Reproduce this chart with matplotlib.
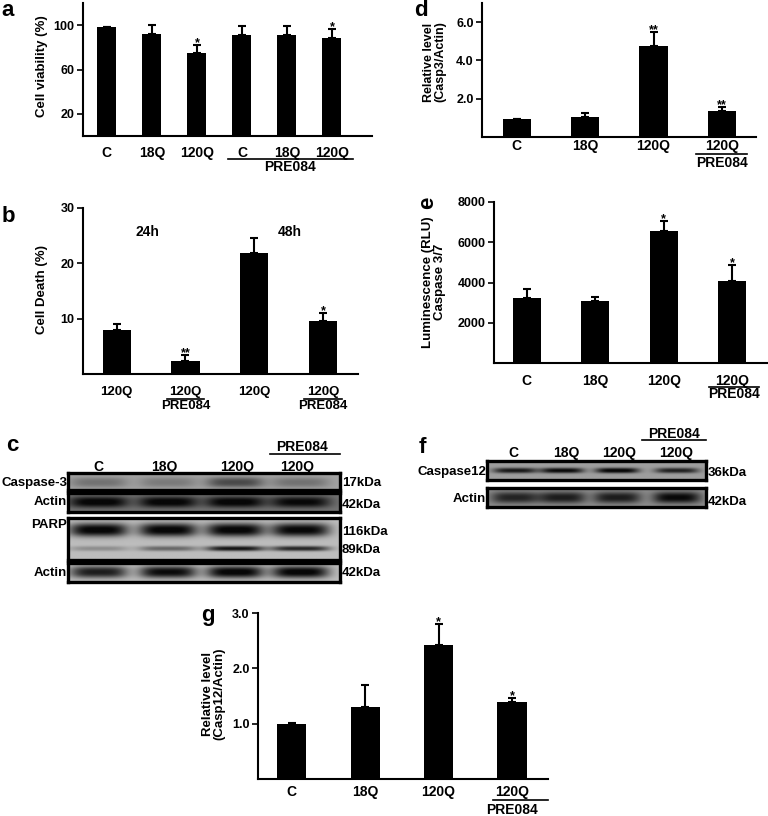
import numpy as np
import matplotlib
matplotlib.use("Agg")
import matplotlib.pyplot as plt
from matplotlib.transforms import blended_transform_factory

plt.rcParams['font.family'] = ['Liberation Sans', 'DejaVu Sans']
plt.rcParams['font.weight'] = 'bold'

W, H = 768, 816

# ---- data ----
a_labels = ['C', '18Q', '120Q', 'C', '18Q', '120Q']
a_vals = [98, 92, 74.5, 91, 91, 88.5]
a_err = [0.5, 8, 7.5, 8, 8, 8]
a_stars = ['', '', '*', '', '', '*']

b_labels = ['120Q', '120Q', '120Q', '120Q']
b_vals = [8.0, 2.4, 21.8, 9.5]
b_err = [1.1, 1.1, 2.7, 1.6]
b_stars = ['', '**', '', '*']
b_times = ['24h', '48h']

d_labels = ['C', '18Q', '120Q', '120Q']
d_vals = [0.93, 1.04, 4.77, 1.36]
d_err = [0.0, 0.21, 0.73, 0.21]
d_stars = ['', '', '**', '**']

e_labels = ['C', '18Q', '120Q', '120Q']
e_vals = [3250, 3100, 6550, 4050]
e_err = [450, 200, 500, 800]
e_stars = ['', '', '*', '*']

g_labels = ['C', '18Q', '120Q', '120Q']
g_vals = [1.0, 1.3, 2.42, 1.4]
g_err = [0.01, 0.39, 0.38, 0.07]
g_stars = ['', '', '*', '*']

lanes = ['C', '18Q', '120Q', '120Q']
# relative band intensities per lane
casp3_band = [0.30, 0.25, 0.55, 0.30]
actin_c1_band = [1.0, 1.0, 1.0, 0.95]
parp116_band = [1.0, 1.0, 1.0, 0.98]
parp89_band = [0.25, 0.45, 0.9, 0.8]
actin_c2_band = [0.85, 0.95, 1.0, 1.0]
casp12_band = [0.85, 0.95, 1.0, 0.8]
actin_f_band = [0.75, 0.8, 0.8, 0.95]


def rect(x0, y0, x1, y1):
    return [x0 / W, 1 - y1 / H, (x1 - x0) / W, (y1 - y0) / H]


fig = plt.figure(figsize=(W / 100, H / 100), dpi=100)


def ftext(x, y, s, **kw):
    fig.text(x / W, 1 - y / H, s, **kw)


def fy(y):
    return 1 - y / H


def bar_panel(box, vals, err, stars, labels, ylim, yticks, yticklabels,
              xlim, label_y, width=0.41, lab_fs=10):
    ax = fig.add_axes(rect(*box))
    x = np.arange(len(vals))
    ax.bar(x, vals, width=width, color='black')
    ax.errorbar(x, vals, yerr=[np.zeros(len(vals)), err], fmt='none',
                ecolor='black', elinewidth=1.5, capsize=3, capthick=1.5)
    for xi, v, e, s in zip(x, vals, err, stars):
        if s:
            ax.annotate(s, (xi, v + e), xytext=(0, -3), textcoords='offset points',
                        ha='center', va='bottom', fontsize=9)
    ax.set_xlim(*xlim)
    ax.set_ylim(*ylim)
    ax.set_yticks(yticks)
    ax.set_yticklabels(yticklabels)
    ax.set_xticks([])
    for sp in ['top', 'right']:
        ax.spines[sp].set_visible(False)
    for sp in ['left', 'bottom']:
        ax.spines[sp].set_linewidth(1.5)
    ax.tick_params(axis='y', direction='out', length=4, width=1.2,
                   labelsize=9, pad=2)
    tr = blended_transform_factory(ax.transData, fig.transFigure)
    for xi, lab in zip(x, labels):
        ax.text(xi, fy(label_y), lab, transform=tr, ha='center', va='center',
                fontsize=lab_fs)
    return ax, tr


def pre084(ax, tr, x0, x1, y_line, y_text, xt=None, fs=10):
    ax.plot([x0, x1], [fy(y_line), fy(y_line)], transform=tr, color='black',
            lw=1.2, clip_on=False)
    if xt is None:
        xt = (x0 + x1) / 2
    ax.text(xt, fy(y_text), 'PRE084', transform=tr, ha='center', va='center',
            fontsize=fs)


# ---- panel a ----
ax, tr = bar_panel((83, 3, 372, 136), a_vals, a_err, a_stars, a_labels,
                   (0, 120), [20, 60, 100], ['20', '60', '100'],
                   (-0.53, 5.89), 153, width=0.42)
pre084(ax, tr, 2.69, 5.47, 159, 167, xt=4.07)
ftext(42, 66, 'Cell viability (%)', rotation=90, ha='center', va='center', fontsize=9.5)
ftext(8, 10, 'a', ha='center', va='center', fontsize=16)

# ---- panel b ----
ax, tr = bar_panel((83, 208, 358, 374), b_vals, b_err, b_stars, b_labels,
                   (0, 30), [10, 20, 30], ['10', '20', '30'],
                   (-0.49, 3.51), 392, lab_fs=9.5)
for i in (1, 3):
    pre084(ax, tr, i - 0.27, i + 0.27, 399, 406, fs=9.5)
for xt, t in zip((0.44, 2.52), b_times):
    ax.text(xt, fy(232), t, transform=tr, ha='center', va='center', fontsize=10)
ftext(42, 290, 'Cell Death (%)', rotation=90, ha='center', va='center', fontsize=9.5)
ftext(8, 216, 'b', ha='center', va='center', fontsize=16)

# ---- panel d ----
ax, tr = bar_panel((482, 3, 756, 137), d_vals, d_err, d_stars, d_labels,
                   (0, 7), [2, 4, 6], ['2.0', '4.0', '6.0'],
                   (-0.51, 3.5), 146)
pre084(ax, tr, 2.62, 3.37, 154, 163, xt=3)
ftext(435, 62, 'Relative level\n(Casp3/Actin)', rotation=90, ha='center',
      va='center', fontsize=9, linespacing=0.95)
ftext(421, 11, 'd', ha='center', va='center', fontsize=16)

# ---- panel e ----
ax, tr = bar_panel((494, 202, 767, 363), e_vals, e_err, e_stars, e_labels,
                   (0, 8000), [2000, 4000, 6000, 8000],
                   ['2000', '4000', '6000', '8000'],
                   (-0.48, 3.51), 381)
pre084(ax, tr, 2.66, 3.40, 387, 394, xt=3.03)
ftext(434, 282, 'Luminescence (RLU)\nCaspase 3/7', rotation=90, ha='center',
      va='center', fontsize=9.5, linespacing=0.95)
ftext(428, 203, 'e', rotation=90, ha='center', va='center', fontsize=16)

# ---- panel g ----
ax, tr = bar_panel((258, 613, 548, 779), g_vals, g_err, g_stars, g_labels,
                   (0, 3), [1, 2, 3], ['1.0', '2.0', '3.0'],
                   (-0.46, 3.49), 792, width=0.40)
pre084(ax, tr, 2.74, 3.49, 800, 810, xt=3.0)
ftext(214, 694, 'Relative level\n(Casp12/Actin)', rotation=90, ha='center',
      va='center', fontsize=9.5, linespacing=0.95)
ftext(208, 616, 'g', ha='center', va='center', fontsize=16)


# ---- western blots ----
def blot(box, bg, centers, rows, sx):
    ax = fig.add_axes(rect(*box))
    xs = np.linspace(0, 4, 400)
    ys = np.linspace(0, 1, 80)
    X, Y = np.meshgrid(xs, ys)
    img = np.full(X.shape, bg)
    for inten, yc, sy in rows:
        for c, a in zip(centers, inten):
            prof = np.exp(-(np.abs(X - c) / sx) ** 4) * np.exp(-(np.abs(Y - yc) / sy) ** 2.5)
            img -= bg * a * prof
    img = np.clip(img, 0.03, 1)
    ax.imshow(img, cmap='gray', vmin=0, vmax=1, origin='lower',
              extent=(0, 4, 0, 1), aspect='auto', interpolation='bilinear')
    ax.set_xticks([])
    ax.set_yticks([])
    for sp in ax.spines.values():
        sp.set_linewidth(2.4)
    return ax


c_centers = [0.45, 1.47, 2.46, 3.42]
blot((68, 473, 340, 490), 0.64, c_centers, [(casp3_band, 0.45, 0.3)], 0.42)
blot((68, 493, 340, 512), 0.45, c_centers, [(actin_c1_band, 0.5, 0.28)], 0.44)
blot((68, 518, 340, 560), 0.74, c_centers,
     [(parp116_band, 0.72, 0.16), (parp89_band, 0.27, 0.06)], 0.43)
blot((68, 563, 340, 582), 0.74, c_centers, [(actin_c2_band, 0.5, 0.3)], 0.42)

for t, y in zip(['Caspase-3', 'Actin', 'PARP', 'Actin'], [483, 502, 525, 573]):
    ftext(67, y, t, ha='right', va='center', fontsize=9.5)
for t, y in zip(['17kDa', '42kDa', '116kDa', '89kDa', '42kDa'],
                [483, 505, 532, 550, 573]):
    ftext(342, y, t, ha='left', va='center', fontsize=9.5)
for t, x in zip(lanes, [98, 164, 237, 297]):
    ftext(x, 467, t, ha='center', va='center', fontsize=10)
fig.add_artist(plt.Line2D([270 / W, 340 / W], [fy(454), fy(454)], color='black', lw=1.2))
ftext(302, 447, 'PRE084', ha='center', va='center', fontsize=10)
ftext(12, 446, 'c', ha='center', va='center', fontsize=16)

f_centers = [0.51, 1.37, 2.38, 3.47]
blot((487, 461, 706, 480), 0.62, f_centers, [(casp12_band, 0.5, 0.14)], 0.4)
blot((487, 488, 706, 507), 0.55, f_centers, [(actin_f_band, 0.5, 0.3)], 0.43)
ftext(486, 472, 'Caspase12', ha='right', va='center', fontsize=9.5)
ftext(486, 499, 'Actin', ha='right', va='center', fontsize=9.5)
ftext(708, 473, '36kDa', ha='left', va='center', fontsize=9.5)
ftext(708, 502, '42kDa', ha='left', va='center', fontsize=9.5)
for t, x in zip(lanes, [513, 566, 619, 676]):
    ftext(x, 453, t, ha='center', va='center', fontsize=10)
fig.add_artist(plt.Line2D([642 / W, 706 / W], [fy(440), fy(440)], color='black', lw=1.2))
ftext(674, 434, 'PRE084', ha='center', va='center', fontsize=10)
ftext(422, 447, 'f', ha='center', va='center', fontsize=16)

fig.savefig('out.png', dpi=100)
